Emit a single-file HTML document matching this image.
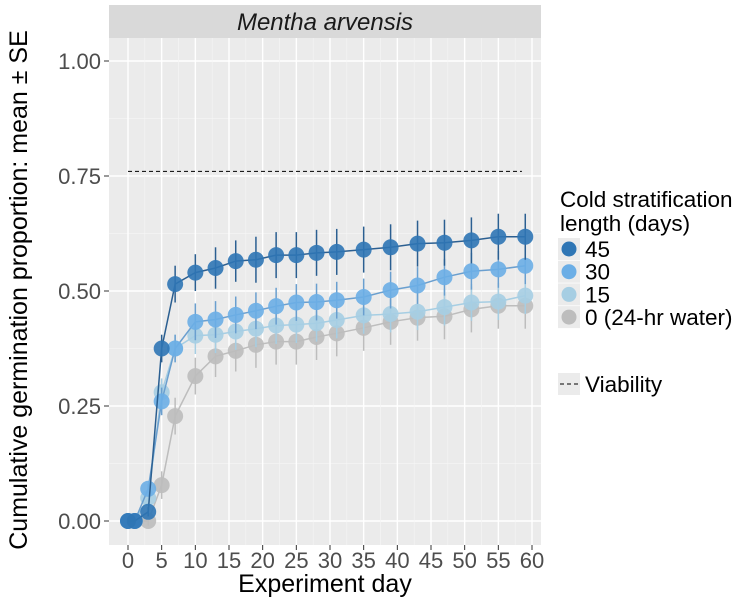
<!DOCTYPE html>
<html><head><meta charset="utf-8"><style>body{margin:0;background:#fff}svg{font-family:"Liberation Sans",sans-serif}</style></head><body>
<svg width="754" height="603">
<rect x="109" y="5" width="432" height="33" fill="#d9d9d9"/>
<text x="325" y="30" font-size="24" font-style="italic" text-anchor="middle" fill="#1a1a1a">Mentha arvensis</text>
<rect x="109" y="38" width="432" height="507" fill="#ebebeb"/>
<g id="grid"></g><g id="axes"></g><g id="series"></g>
<text x="325" y="592" font-size="25" text-anchor="middle" fill="#000">Experiment day</text>
<text transform="translate(27,290) rotate(-90)" font-size="25" text-anchor="middle" fill="#000">Cumulative germination proportion: mean ± SE</text>
<g>
<text x="560" y="207" font-size="22.5">Cold stratification</text>
<text x="560" y="231" font-size="22.5">length (days)</text>
<g id="legend"></g>
<rect x="558" y="373" width="22" height="22" fill="#ebebeb"/>
<line x1="560" y1="384" x2="578" y2="384" stroke="#000" stroke-dasharray="4,3"/>
<text x="585" y="392" font-size="22.5">Viability</text>
</g>
</svg>
<script>
const days=[0,1,3,5,7,10,13,16,19,22,25,28,31,35,39,43,47,51,55,59];
const s45=[0,0,0.02,0.375,0.515,0.54,0.55,0.565,0.568,0.578,0.578,0.583,0.585,0.59,0.595,0.603,0.605,0.61,0.618,0.618];
const s30=[0,0,0.07,0.26,0.375,0.433,0.438,0.448,0.457,0.467,0.475,0.476,0.48,0.487,0.502,0.512,0.53,0.543,0.547,0.555];
const s15=[0,0,0.05,0.28,0.375,0.403,0.405,0.412,0.418,0.425,0.427,0.43,0.437,0.447,0.45,0.455,0.465,0.475,0.477,0.49];
const s0=[0,0,0,0.078,0.228,0.315,0.358,0.37,0.383,0.39,0.39,0.4,0.408,0.42,0.433,0.442,0.445,0.46,0.468,0.468];
const se45=[0,0,0.01,0.03,0.04,0.04,0.045,0.045,0.05,0.05,0.05,0.05,0.05,0.05,0.05,0.05,0.05,0.05,0.05,0.05];
const se30=[0,0,0.01,0.03,0.03,0.04,0.04,0.04,0.04,0.04,0.04,0.04,0.04,0.04,0.04,0.04,0.04,0.04,0.04,0.04];
const se15=[0,0,0.01,0.03,0.03,0.04,0.04,0.04,0.04,0.04,0.04,0.04,0.04,0.04,0.04,0.04,0.04,0.04,0.04,0.04];
const se0=[0,0,0.01,0.03,0.04,0.04,0.045,0.045,0.05,0.05,0.05,0.05,0.05,0.05,0.05,0.05,0.05,0.05,0.05,0.05];
const xTicks=[0,5,10,15,20,25,30,35,40,45,50,55,60];
const yTicks=[0,0.25,0.5,0.75,1.0];
const yLabels=["0.00","0.25","0.50","0.75","1.00"];
const viability=0.76, viabilityEnd=58.5;
const legendLabels=["45","30","15","0 (24-hr water)"];
const NS="http://www.w3.org/2000/svg";
const X=d=>128+d*(404/60), Y=v=>521-v*460;
function mk(p,t,a){const e=document.createElementNS(NS,t);for(const k in a)e.setAttribute(k,a[k]);p.appendChild(e);return e;}
const grid=document.getElementById('grid'),axes=document.getElementById('axes'),ser=document.getElementById('series');
for(let i=0;i<yTicks.length;i++){
 if(i<yTicks.length-1){const l=mk(grid,'line',{x1:109,x2:541,y1:Y((yTicks[i]+yTicks[i+1])/2),y2:Y((yTicks[i]+yTicks[i+1])/2),stroke:'#f5f5f5','stroke-width':0.7});
 }
 const g=mk(grid,'line',{x1:109,x2:541,y1:Y(yTicks[i]),y2:Y(yTicks[i]),stroke:'#fff','stroke-width':1.4});
 
 const t=mk(axes,'line',{x1:104,x2:109,y1:Y(yTicks[i]),y2:Y(yTicks[i]),stroke:'#333'});
 
 const tx=mk(axes,'text',{x:101,y:Y(yTicks[i])+8,'font-size':22,'text-anchor':'end',fill:'#4d4d4d'});tx.textContent=yLabels[i];
 
}
for(let i=0;i<xTicks.length;i++){
 if(i<xTicks.length-1){const l=mk(grid,'line',{y1:38,y2:545,x1:X(xTicks[i]+2.5),x2:X(xTicks[i]+2.5),stroke:'#f5f5f5','stroke-width':0.7});
 }
 const g=mk(grid,'line',{y1:38,y2:545,x1:X(xTicks[i]),x2:X(xTicks[i]),stroke:'#fff','stroke-width':1.4});
 
 const t=mk(axes,'line',{y1:545,y2:550,x1:X(xTicks[i]),x2:X(xTicks[i]),stroke:'#333'});
 
 const tx=mk(axes,'text',{x:X(xTicks[i]),y:568,'font-size':22,'text-anchor':'middle',fill:'#4d4d4d'});tx.textContent=xTicks[i];
 
}
const vl=mk(ser,'line',{x1:X(0),x2:X(viabilityEnd),y1:Y(viability),y2:Y(viability),stroke:'#000','stroke-dasharray':'4,3'});

const series=[[s0,se0,'#bdbdbd','0'],[s15,se15,'#a6cee3','15'],[s30,se30,'#6baee6','30'],[s45,se45,'#2f76b5','45']];
const lineCols={'0':'#bdbdbd','15':'#a6cee3','30':'#6a9fcf','45':'#2b5f91'};
for(const [vals,se,col,nm] of series){
 const g=mk(ser,'g',{});
 const pl=mk(g,'polyline',{points:days.map((d,i)=>X(d)+','+Y(vals[i])).join(' '),fill:'none',stroke:lineCols[nm],'stroke-width':1.5});
 
 days.forEach((d,i)=>{
  const e=mk(g,'line',{x1:X(d),x2:X(d),y1:Y(vals[i]-se[i]),y2:Y(vals[i]+se[i]),stroke:lineCols[nm],'stroke-width':1.5});
  
  const c=mk(g,'circle',{cx:X(d),cy:Y(vals[i]),r:8,fill:col,'fill-opacity':0.9});
  
 });
}
const lg=document.getElementById('legend');const lcols=['#2f76b5','#6baee6','#a6cee3','#bdbdbd'];
legendLabels.forEach((lab,i)=>{const y=249+i*22.7;
 const k=mk(lg,'rect',{x:558,y:y-11,width:22,height:22,fill:'#ebebeb'});
 const c=mk(lg,'circle',{cx:569,cy:y,r:7.5,fill:lcols[i]});
 const t=mk(lg,'text',{x:585,y:y+8,'font-size':22.5});t.textContent=lab;
});
</script>
</body></html>
